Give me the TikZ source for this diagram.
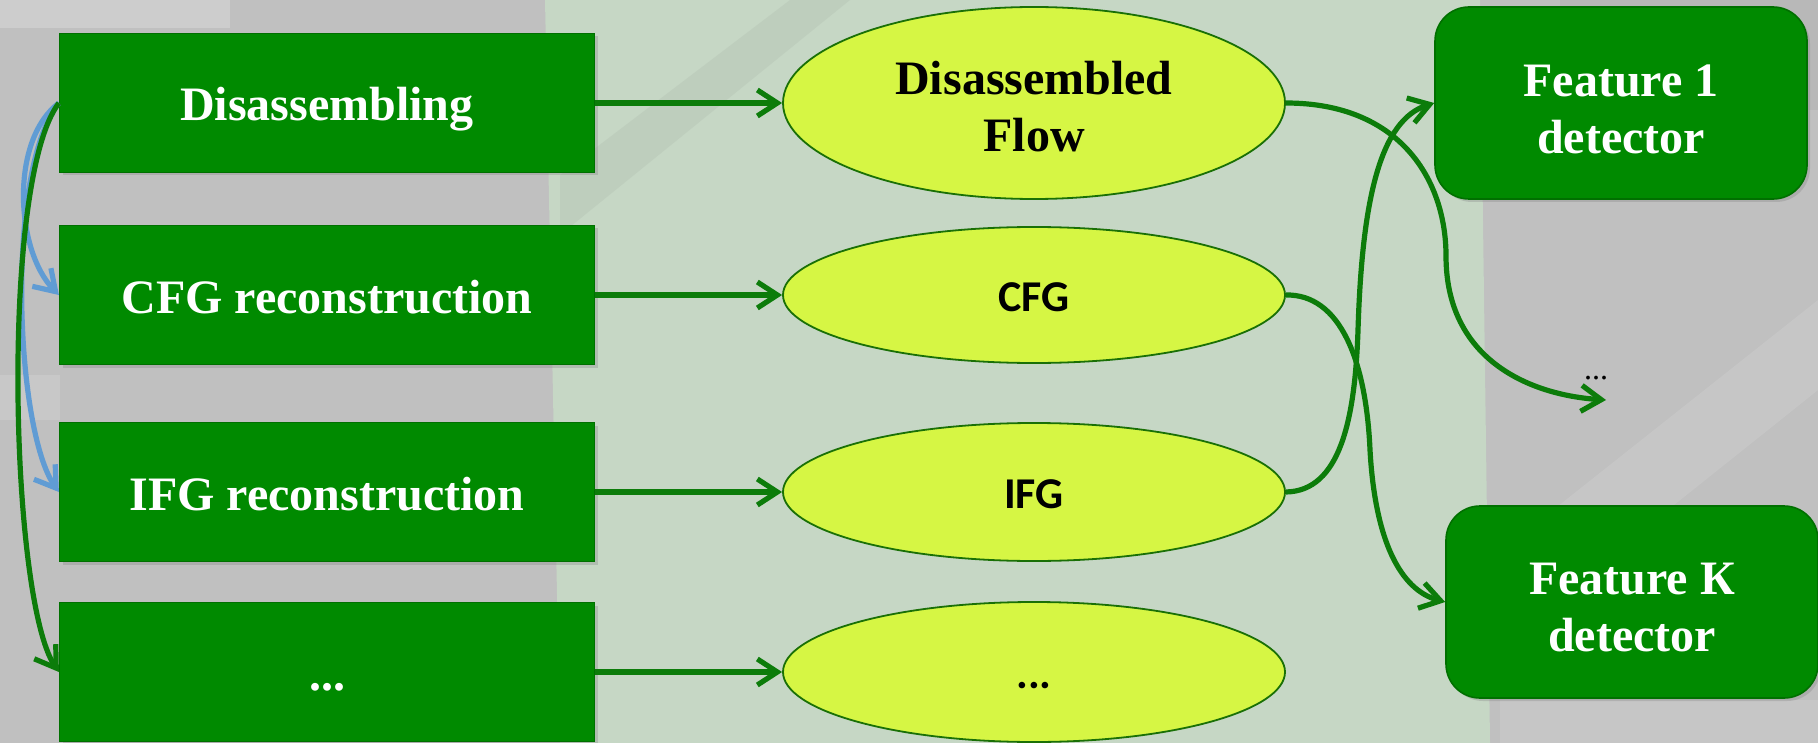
\documentclass[tikz,border=0pt]{standalone}
\usepackage{fontspec}
\setmainfont{Liberation Serif}
\newfontfamily\calib{Carlito}
\usetikzlibrary{shapes.geometric,arrows.meta,shadows}

\definecolor{boxgreen}{RGB}{0,138,0}
\definecolor{boxedge}{RGB}{0,112,0}
\definecolor{ellfill}{RGB}{214,246,68}
\definecolor{elledge}{RGB}{26,112,6}
\definecolor{linkgreen}{RGB}{12,124,10}
\definecolor{linkblue}{RGB}{96,156,212}
\definecolor{bggray}{RGB}{192,192,192}
\definecolor{bgdark}{RGB}{172,172,172}
\definecolor{bgpale}{RGB}{214,214,214}
\definecolor{bggreen}{RGB}{198,215,197}
\definecolor{bgband}{RGB}{184,198,183}

\begin{document}
\begin{tikzpicture}[x=0.5pt,y=-0.5pt,
  bigfont/.style={font=\fontsize{24}{28.5}\selectfont\bfseries},
  smallsans/.style={font=\calib\fontsize{22}{26}\selectfont\bfseries,
    text height=16pt, text depth=0pt},
  stagebox/.style={bigfont, draw=boxedge, line width=0.6pt, fill=boxgreen,
    text=white, minimum width=267.5pt, minimum height=69.5pt,
    text height=18pt, text depth=0pt,
    drop shadow={opacity=0.3, shadow xshift=1.5pt, shadow yshift=-1.5pt}},
  product/.style={ellipse, draw=elledge, line width=0.9pt, fill=ellfill,
    text=black, minimum width=251pt, inner sep=0pt},
  detector/.style={draw=boxedge, line width=0.8pt, fill=boxgreen,
    rounded corners=17pt, minimum width=186pt, minimum height=96pt,
    drop shadow={opacity=0.3, shadow xshift=1.5pt, shadow yshift=-1.5pt}},
  link/.style={draw=linkgreen, line width=2.6pt,
    -{Straight Barb[length=10pt,width=13pt]}},
  bluelink/.style={draw=linkblue, line width=2.6pt,
    -{Straight Barb[length=10pt,width=13pt]}},
]
\useasboundingbox (0,0) rectangle (1818,743);

% blurred photo backdrop
\fill[bggray] (0,0) rectangle (1818,743);
\fill[bgpale, opacity=0.6] (0,0) rectangle (230,28);
\fill[bgpale, opacity=0.4] (0,375) rectangle (60,420);
\fill[bgdark, opacity=0.4] (1560,0) rectangle (1818,110);
\fill[bggreen] (545,0) -- (1480,0) -- (1490,743) -- (560,743) -- cycle;
\fill[bgband, opacity=0.5] (560,175) -- (790,0) -- (850,0) -- (560,235) -- cycle;
\fill[bgpale, opacity=0.3] (1490,560) -- (1818,300) -- (1818,390) -- (1530,620) -- cycle;
\fill[bgpale, opacity=0.3] (1500,700) rectangle (1818,743);

% stage boxes
\node[stagebox] (dis)  at (327,103) {Disassembling};
\node[stagebox] (cfgr) at (327,295) {CFG reconstruction};
\node[stagebox] (ifgr) at (327,492) {IFG reconstruction};
\node[stagebox] (more) at (327,672) {...};

% intermediate products
\node[product, minimum height=96pt] (flow) at (1034,103) {};
\node[bigfont, align=center] (flowtext) at (1034,107) {Disassembled\\Flow};
\node[product, minimum height=68pt, smallsans] (cfg) at (1034,295) {CFG};
\node[product, minimum height=69pt, smallsans] (ifg) at (1034,492) {IFG};
\node[product, minimum height=70pt, smallsans] (etc) at (1034,672) {...};

% detectors
\node[detector] (f1) at (1621,103) {};
\node[bigfont, text=white, align=center] (f1text) at (1621,109) {Feature 1\\detector};
\node[detector] (fk) at (1632,602) {};
\node[bigfont, text=white, align=center] (fktext) at (1632,608) {Feature К\\detector};
\node[font=\fontsize{16}{18}\selectfont] (fdots) at (1596,378) {...};
\coordinate (fend) at (1606,400);

% stage to product
\draw[link] (dis.east)  -- (flow.west);
\draw[link] (cfgr.east) -- (cfg.west);
\draw[link] (ifgr.east) -- (ifg.west);
\draw[link] (more.east) -- (etc.west);

% stage order on the left
\draw[bluelink] (dis.west) .. controls (10,140) and (15,250) .. (cfgr.west);
\draw[bluelink] (dis.west) .. controls (5,170) and (15,430) .. (ifgr.west);
\draw[link] (dis.west) .. controls (0,180) and (10,600) .. (more.west);

% products to detectors
\draw[link] (flow.east) .. controls (1400,103) and (1446,180) .. (1446,256)
  .. controls (1446,360) and (1530,395) .. (fend);
\draw[link] (cfg.east) .. controls (1340,294) and (1366,360) .. (1370,450)
  .. controls (1375,540) and (1400,590) .. (fk.west);
\draw[link] (ifg.east) .. controls (1340,491) and (1355,420) .. (1358,330)
  .. controls (1362,200) and (1380,120) .. (f1.west);
\end{tikzpicture}
\end{document}
